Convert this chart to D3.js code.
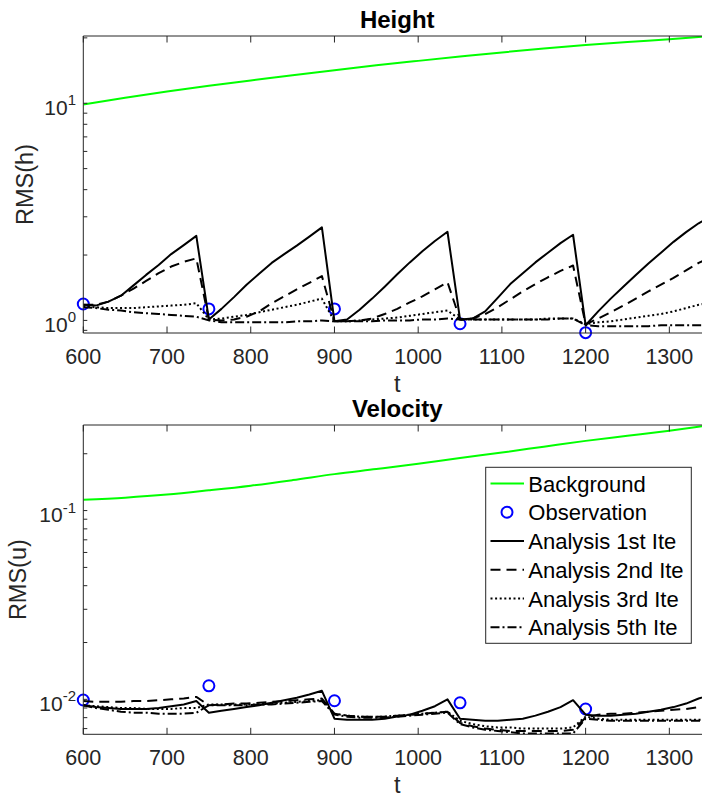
<!DOCTYPE html>
<html>
<head>
<meta charset="utf-8">
<script src="https://cdn.jsdelivr.net/npm/d3@7"></script>
<style>
  body { margin: 0; background: #fff; }
  svg { display: block; }
  text { font-family: "Liberation Sans", Arial, Helvetica, sans-serif; }
</style>
</head>
<body>
<svg id="chart" width="702" height="798"></svg>
<script>
// Sample times of the assimilation run (every 15 time units, 5 windows of 150)
const time = [
  600, 615, 630, 645, 660, 675, 690, 705, 720, 735,
  750, 765, 780, 795, 810, 825, 840, 855, 870, 885,
  900, 915, 930, 945, 960, 975, 990, 1005, 1020, 1035,
  1050, 1065, 1080, 1095, 1110, 1125, 1140, 1155, 1170, 1185,
  1200, 1215, 1230, 1245, 1260, 1275, 1290, 1305, 1320, 1335,
  1350
];
const bgTime = [600, 650, 700, 750, 800, 850, 900, 950, 1000, 1050, 1100, 1150, 1200, 1250, 1300, 1350];
const obsTime = [600, 750, 900, 1050, 1200];

// Height RMS
const hBackground = [9.86, 10.6, 11.33, 12.05, 12.73, 13.45, 14.2, 14.95, 15.67, 16.4, 17.14, 17.85, 18.53, 19.15, 19.72, 20.4];
const hObservation = [1.19, 1.13, 1.13, 0.965, 0.878];
const hIter1 = [
  1.18, 1.17, 1.22, 1.30, 1.45, 1.62, 1.80, 2.02, 2.22, 2.45,
  1.01, 1.13, 1.28, 1.46, 1.64, 1.84, 2.02, 2.21, 2.43, 2.68,
  0.99, 1.01, 1.12, 1.26, 1.43, 1.63, 1.85, 2.08, 2.32, 2.56,
  1.01, 1.02, 1.10, 1.27, 1.47, 1.65, 1.85, 2.05, 2.27, 2.48,
  0.95, 1.10, 1.26, 1.43, 1.62, 1.83, 2.05, 2.30, 2.55, 2.80,
  3.02
];
const hIter2 = [
  1.18, 1.18, 1.22, 1.30, 1.40, 1.52, 1.65, 1.77, 1.86, 1.93,
  1.01, 1.00, 1.01, 1.04, 1.10, 1.20, 1.29, 1.39, 1.49, 1.60,
  0.99, 0.99, 1.00, 1.02, 1.07, 1.13, 1.21, 1.29, 1.39, 1.50,
  1.01, 1.02, 1.07, 1.15, 1.25, 1.36, 1.47, 1.58, 1.69, 1.79,
  0.96, 1.02, 1.09, 1.17, 1.26, 1.36, 1.46, 1.57, 1.70, 1.84,
  1.95
];
const hIter3 = [
  1.16, 1.15, 1.14, 1.14, 1.14, 1.15, 1.16, 1.17, 1.18, 1.20,
  1.01, 1.02, 1.04, 1.06, 1.09, 1.12, 1.15, 1.18, 1.22, 1.26,
  0.99, 0.99, 1.00, 1.01, 1.02, 1.03, 1.05, 1.07, 1.09, 1.11,
  1.01, 1.01, 1.01, 1.01, 1.01, 1.01, 1.01, 1.02, 1.02, 1.02,
  0.96, 0.98, 0.99, 1.01, 1.03, 1.05, 1.07, 1.10, 1.14, 1.18,
  1.21
];
const hIter5 = [
  1.15, 1.14, 1.12, 1.11, 1.09, 1.08, 1.07, 1.06, 1.05, 1.04,
  1.00, 0.98, 0.98, 0.98, 0.98, 0.98, 0.98, 0.99, 0.99, 1.00,
  0.99, 0.99, 0.99, 0.99, 1.00, 1.00, 1.00, 1.01, 1.01, 1.02,
  1.01, 1.01, 1.01, 1.01, 1.01, 1.01, 1.01, 1.01, 1.02, 1.02,
  0.95, 0.94, 0.94, 0.94, 0.94, 0.94, 0.95, 0.95, 0.95, 0.95,
  0.95
];

// Velocity RMS
const uBackground = [0.114, 0.117, 0.1215, 0.128, 0.1355, 0.145, 0.156, 0.166, 0.177, 0.190, 0.203, 0.218, 0.234, 0.249, 0.265, 0.284];
const uObservation = [0.00992, 0.0118, 0.00983, 0.00959, 0.00889];
const uIter1 = [
  0.0093, 0.0091, 0.0090, 0.0089, 0.0089, 0.0089, 0.0090, 0.0092, 0.0094, 0.0098,
  0.0085, 0.0087, 0.0089, 0.0091, 0.0093, 0.0096, 0.0099, 0.0102, 0.0106, 0.0111,
  0.0079, 0.0078, 0.0078, 0.0078, 0.0079, 0.0081, 0.0083, 0.0087, 0.0092, 0.0100,
  0.0079, 0.0078, 0.0077, 0.0077, 0.0078, 0.0079, 0.0082, 0.0086, 0.0091, 0.0099,
  0.0083, 0.0082, 0.0082, 0.0083, 0.0084, 0.0086, 0.0088, 0.0091, 0.0095, 0.0101,
  0.0106
];
const uIter2 = [
  0.0098, 0.0097, 0.0097, 0.0097, 0.0098, 0.0098, 0.0099, 0.0100, 0.0101, 0.0103,
  0.0093, 0.0094, 0.0095, 0.0095, 0.0096, 0.0097, 0.0098, 0.0099, 0.0100, 0.0101,
  0.0084, 0.0082, 0.0081, 0.0081, 0.0081, 0.0082, 0.0083, 0.0084, 0.0085, 0.0086,
  0.0075, 0.0072, 0.0070, 0.0069, 0.0068, 0.0068, 0.0068, 0.0068, 0.0068, 0.0069,
  0.0080, 0.0083, 0.0084, 0.0084, 0.0085, 0.0086, 0.0087, 0.0088, 0.0089, 0.0091,
  0.0092
];
const uIter3 = [
  0.0093, 0.0092, 0.0091, 0.0090, 0.0090, 0.0089, 0.0089, 0.0089, 0.0090, 0.0090,
  0.0094, 0.0094, 0.0094, 0.0094, 0.0094, 0.0095, 0.0096, 0.0097, 0.0098, 0.0099,
  0.0084, 0.0082, 0.0081, 0.0081, 0.0081, 0.0082, 0.0083, 0.0084, 0.0085, 0.0086,
  0.0077, 0.0074, 0.0072, 0.0071, 0.0071, 0.0070, 0.0070, 0.0070, 0.0070, 0.0071,
  0.0081, 0.0079, 0.0078, 0.0078, 0.0078, 0.0078, 0.0078, 0.0078, 0.0078, 0.0078,
  0.0078
];
const uIter5 = [
  0.0093, 0.0090, 0.0088, 0.0086, 0.0085, 0.0085, 0.0084, 0.0084, 0.0084, 0.0085,
  0.0093, 0.0093, 0.0093, 0.0093, 0.0094, 0.0094, 0.0095, 0.0096, 0.0097, 0.0098,
  0.0083, 0.0081, 0.0080, 0.0080, 0.0080, 0.0081, 0.0082, 0.0083, 0.0084, 0.0085,
  0.0074, 0.0071, 0.0069, 0.0068, 0.0067, 0.0066, 0.0066, 0.0066, 0.0066, 0.0066,
  0.0079, 0.0078, 0.0077, 0.0077, 0.0077, 0.0077, 0.0077, 0.0077, 0.0077, 0.0077,
  0.0077
];

const xTicks = [600, 700, 800, 900, 1000, 1100, 1200, 1300];
const legendLabels = ["Background", "Observation", "Analysis 1st Ite", "Analysis 2nd Ite", "Analysis 3rd Ite", "Analysis 5th Ite"];

// Line styles for the analysis iterations
const iterStyles = [
  { dash: null },
  { dash: "10,6" },
  { dash: "2,2.6" },
  { dash: "9,3,2,3" }
];

const AXIS = "#262626";
const GREEN = "#00ff00";
const BLUE = "#0000ff";

const svg = d3.select("#chart");
const x = d3.scaleLinear().domain([600, 1350]).range([83.3, 711.2]);

const panels = [
  {
    title: "Height", ylabel: "RMS(h)", top: 36, bottom: 333,
    yDomain: [0.875, 20.4], labelX: 33.3,
    bg: hBackground, obs: hObservation, iters: [hIter1, hIter2, hIter3, hIter5],
    legend: false
  },
  {
    title: "Velocity", ylabel: "RMS(u)", top: 425, bottom: 734.3,
    yDomain: [0.00653, 0.284], labelX: 25.5,
    bg: uBackground, obs: uObservation, iters: [uIter1, uIter2, uIter3, uIter5],
    legend: true
  }
];

panels.forEach((p, pi) => {
  const y = d3.scaleLog().domain(p.yDomain).range([p.bottom, p.top]);
  const g = svg.append("g");
  const clipId = "clip" + pi;
  svg.append("clipPath").attr("id", clipId)
    .append("rect")
    .attr("x", x.range()[0]).attr("y", p.top)
    .attr("width", x.range()[1] - x.range()[0]).attr("height", p.bottom - p.top);

  // background curve
  const bgLine = d3.line().x((d, i) => x(bgTime[i])).y(d => y(d)).curve(d3.curveMonotoneX);
  g.append("path").attr("d", bgLine(p.bg))
    .attr("clip-path", `url(#${clipId})`)
    .attr("fill", "none").attr("stroke", GREEN).attr("stroke-width", 2);

  // observations
  g.selectAll("circle.obs").data(p.obs).join("circle")
    .attr("class", "obs")
    .attr("cx", (d, i) => x(obsTime[i])).attr("cy", d => y(d)).attr("r", 5.5)
    .attr("fill", "none").attr("stroke", BLUE).attr("stroke-width", 2);

  // analysis iterations
  const line = d3.line().x((d, i) => x(time[i])).y(d => y(d));
  p.iters.forEach((s, k) => {
    g.append("path").attr("d", line(s))
      .attr("clip-path", `url(#${clipId})`)
      .attr("fill", "none").attr("stroke", "#000").attr("stroke-width", 2)
      .attr("stroke-linejoin", "round")
      .attr("stroke-dasharray", iterStyles[k].dash);
  });

  // axes box (left, top, bottom)
  const ax = svg.append("g").attr("stroke", AXIS).attr("stroke-width", 1).attr("fill", "none");
  const x0 = x.range()[0], x1 = x.range()[1];
  ax.append("line").attr("x1", x0).attr("x2", x0).attr("y1", p.top).attr("y2", p.bottom);
  ax.append("line").attr("x1", x0).attr("x2", x1).attr("y1", p.top).attr("y2", p.top);
  ax.append("line").attr("x1", x0).attr("x2", x1).attr("y1", p.bottom).attr("y2", p.bottom);

  // x ticks (inward, top and bottom)
  xTicks.forEach(t => {
    ax.append("line").attr("x1", x(t)).attr("x2", x(t)).attr("y1", p.bottom).attr("y2", p.bottom - 6.5);
    ax.append("line").attr("x1", x(t)).attr("x2", x(t)).attr("y1", p.top).attr("y2", p.top + 6.5);
  });
  svg.append("g").selectAll("text").data(xTicks).join("text")
    .attr("x", d => x(d)).attr("y", p.bottom + 30.6)
    .attr("text-anchor", "middle").attr("font-size", 21.5).attr("fill", AXIS)
    .text(d => d);

  // y ticks (log; major at decades)
  const yt = y.ticks();
  yt.forEach(v => {
    ax.append("line").attr("x1", x0).attr("x2", x0 + 4).attr("y1", y(v)).attr("y2", y(v));
  });
  const majors = yt.filter(v => Math.abs(Math.log10(v) - Math.round(Math.log10(v))) < 1e-9);
  majors.forEach(v => {
    const tx = svg.append("text")
      .attr("x", 76).attr("y", y(v) + 11.5)
      .attr("text-anchor", "end").attr("fill", AXIS).attr("font-size", 21);
    tx.append("tspan").text("10");
    tx.append("tspan").attr("dy", -9.5).attr("font-size", 15).text(String(Math.round(Math.log10(v))));
  });

  // labels and title
  svg.append("text")
    .attr("transform", `translate(${p.labelX},${(p.top + p.bottom) / 2}) rotate(-90)`)
    .attr("text-anchor", "middle").attr("font-size", 23.5).attr("fill", AXIS)
    .text(p.ylabel);
  svg.append("text")
    .attr("x", (x0 + x1) / 2).attr("y", p.bottom + 58.8)
    .attr("text-anchor", "middle").attr("font-size", 23.5).attr("fill", AXIS)
    .text("t");
  svg.append("text")
    .attr("x", (x0 + x1) / 2).attr("y", p.top - 7.8)
    .attr("text-anchor", "middle").attr("font-size", 24).attr("font-weight", "bold").attr("fill", "#000")
    .text(p.title);

  if (p.legend) {
    const lg = svg.append("g");
    lg.append("rect").attr("x", 485.7).attr("y", 467.3).attr("width", 205.6).attr("height", 176)
      .attr("fill", "#fff").attr("stroke", AXIS).attr("stroke-width", 1);
    legendLabels.forEach((name, i) => {
      const cy = 483.5 + i * 28.75;
      if (i === 0) {
        lg.append("line").attr("x1", 490.5).attr("x2", 524).attr("y1", cy).attr("y2", cy)
          .attr("stroke", GREEN).attr("stroke-width", 2);
      } else if (i === 1) {
        lg.append("circle").attr("cx", 507).attr("cy", cy).attr("r", 5.5)
          .attr("fill", "none").attr("stroke", BLUE).attr("stroke-width", 2);
      } else {
        lg.append("line").attr("x1", 490.5).attr("x2", 524).attr("y1", cy).attr("y2", cy)
          .attr("stroke", "#000").attr("stroke-width", 2)
          .attr("stroke-dasharray", iterStyles[i - 2].dash);
      }
      lg.append("text").attr("x", 528.3).attr("y", cy + 8)
        .attr("font-size", 22).attr("fill", "#000").text(name);
    });
  }
});
</script>
</body>
</html>
